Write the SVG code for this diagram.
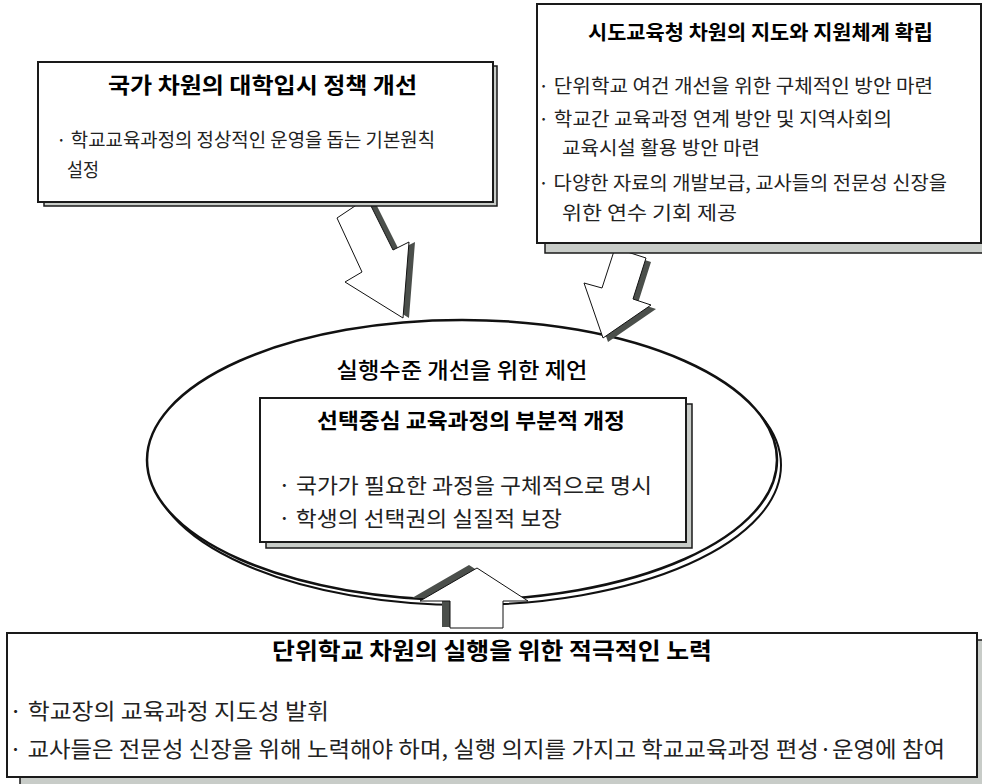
<svg xmlns="http://www.w3.org/2000/svg" width="982" height="784" viewBox="0 0 982 784">
<style>
.box{fill:#fff;stroke:#1a1a1a;stroke-width:2}
.shd{fill:#c8ccc8;stroke:#1a1a1a;stroke-width:1.5}
.aw{fill:#fff;stroke:#111;stroke-width:1}
.ad{fill:#4b4f4b;stroke:none}
.t{font-family:"Noto Sans CJK KR","Noto Sans",sans-serif;font-weight:bold;fill:#000}
.b{font-family:"Noto Sans CJK KR","Noto Sans",sans-serif;fill:#222}
</style>
<rect width="982" height="784" fill="#fff"/>
<g id="center">
<ellipse cx="466" cy="465" rx="315" ry="140" fill="#fff" stroke="#111" stroke-width="2"/>
<ellipse cx="462" cy="460" rx="315" ry="140" fill="#fff" stroke="#111" stroke-width="2.5"/>
<text class="b" x="462" y="378" font-size="22" font-weight="500" text-anchor="middle" textLength="251" lengthAdjust="spacingAndGlyphs" style="fill:#000">실행수준 개선을 위한 제언</text>
<rect class="shd" x="266" y="404" width="426" height="144"/>
<rect class="box" x="260" y="398" width="426" height="144"/>
<text class="t" x="317" y="428" font-size="21" textLength="308" lengthAdjust="spacingAndGlyphs">선택중심 교육과정의 부분적 개정</text>
<text class="b" x="278" y="493" font-size="21" textLength="374" lengthAdjust="spacingAndGlyphs">· 국가가 필요한 과정을 구체적으로 명시</text>
<text class="b" x="278" y="526" font-size="21" textLength="284" lengthAdjust="spacingAndGlyphs">· 학생의 선택권의 실질적 보장</text>
</g>
<g id="connectors">
<polygon class="ad" points="343,218 373,198 399,250 415,242 409,318 351,282 368,272"/>
<polygon class="aw" points="337,218 367,198 393,250 409,242 403,318 345,282 362,272"/>
<polygon class="ad" points="620,252 651,262 638,303 656,309 608,342 589,287 607,292"/>
<polygon class="aw" points="615,248 646,258 633,299 651,305 603,338 584,283 602,288"/>
<polygon class="ad" points="469,565 520,598 495,598 495,627 442,627 442,598 412,598"/>
<polygon class="aw" points="477,568 528,601 503,601 503,628 450,628 450,601 420,601"/>
</g>
<g id="national">
<rect class="shd" x="44" y="66" width="453" height="140"/>
<rect class="box" x="38" y="62" width="455" height="140"/>
<text class="t" x="108" y="93" font-size="22" textLength="309" lengthAdjust="spacingAndGlyphs">국가 차원의 대학입시 정책 개선</text>
<text class="b" x="56" y="147" font-size="19" textLength="379" lengthAdjust="spacingAndGlyphs">· 학교교육과정의 정상적인 운영을 돕는 기본원칙</text>
<text class="b" x="67" y="177" font-size="19" textLength="32" lengthAdjust="spacingAndGlyphs">설정</text>
</g>
<g id="provincial">
<rect class="shd" x="545" y="14" width="450" height="239"/>
<rect class="box" x="537" y="4" width="444" height="239"/>
<text class="t" x="588" y="40" font-size="20" textLength="345" lengthAdjust="spacingAndGlyphs">시도교육청 차원의 지도와 지원체계 확립</text>
<text class="b" x="538" y="93" font-size="19" textLength="395" lengthAdjust="spacingAndGlyphs">· 단위학교 여건 개선을 위한 구체적인 방안 마련</text>
<text class="b" x="538" y="126" font-size="19" textLength="354" lengthAdjust="spacingAndGlyphs">· 학교간 교육과정 연계 방안 및 지역사회의</text>
<text class="b" x="562" y="155" font-size="19" textLength="198" lengthAdjust="spacingAndGlyphs">교육시설 활용 방안 마련</text>
<text class="b" x="538" y="190" font-size="19" textLength="409" lengthAdjust="spacingAndGlyphs">· 다양한 자료의 개발보급, 교사들의 전문성 신장을</text>
<text class="b" x="562" y="220" font-size="19" textLength="175" lengthAdjust="spacingAndGlyphs">위한 연수 기회 제공</text>
</g>
<g id="school">
<rect class="shd" x="20" y="640" width="975" height="150"/>
<rect class="box" x="7" y="633" width="970" height="144"/>
<text class="t" x="492" y="659" font-size="23" text-anchor="middle" textLength="440" lengthAdjust="spacingAndGlyphs">단위학교 차원의 실행을 위한 적극적인 노력</text>
<text class="b" x="9" y="719" font-size="22" textLength="320" lengthAdjust="spacingAndGlyphs">· 학교장의 교육과정 지도성 발휘</text>
<text class="b" x="9" y="757" font-size="22" textLength="936" lengthAdjust="spacingAndGlyphs">· 교사들은 전문성 신장을 위해 노력해야 하며, 실행 의지를 가지고 학교교육과정 편성·운영에 참여</text>
</g>
</svg>
